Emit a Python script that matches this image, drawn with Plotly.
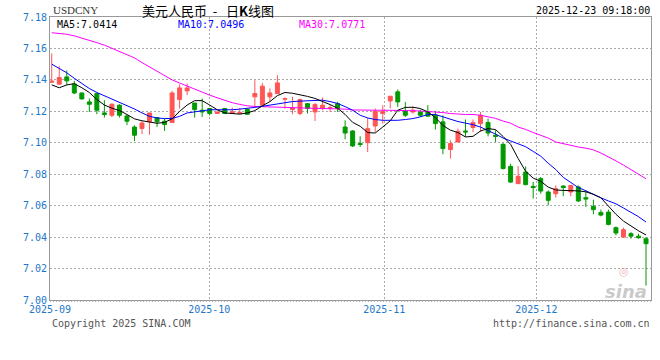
import plotly.graph_objects as go

# ---------------- data ----------------
symbol = "USDCNY"
title_text = "美元人民币\u00a0\u00a0-\u00a0\u00a0\u00a0日<b>K</b>线图"
stamp = "2025-12-23 09:18:00"

idx = list(range(80))  # trading-day index, 2025-09-01 .. 2025-12-23

opens = [7.1385, 7.1373, 7.1419, 7.1373, 7.1317, 7.1260, 7.1313, 7.1190, 7.1175, 7.1239,
         7.1171, 7.1100, 7.1091, 7.1133, 7.1160, 7.1137, 7.1129, 7.1275, 7.1330, 7.1253,
         7.1207, 7.1218, 7.1186, 7.1218, 7.1190, 7.1186, 7.1213, 7.1292, 7.1239, 7.1292,
         7.1313, 7.1277, 7.1211, 7.1186, 7.1249, 7.1196, 7.1218, 7.1218, 7.1249, 7.1100,
         7.1075, 7.0995, 7.1001, 7.1107, 7.1186, 7.1266, 7.1324, 7.1203, 7.1196, 7.1196,
         7.1196, 7.1175, 7.1133, 7.0957, 7.1005, 7.1075, 7.1097, 7.1122, 7.1129, 7.1048,
         7.0990, 7.0850, 7.0740, 7.0814, 7.0723, 7.0772, 7.0687, 7.0676, 7.0725, 7.0687,
         7.0719, 7.0651, 7.0596, 7.0557, 7.0559, 7.0460, 7.0400, 7.0422, 7.0406, 7.0390]
highs = [7.1568, 7.1487, 7.1460, 7.1394, 7.1317, 7.1282, 7.1317, 7.1271, 7.1251, 7.1245,
         7.1177, 7.1111, 7.1137, 7.1190, 7.1160, 7.1154, 7.1330, 7.1371, 7.1377, 7.1253,
         7.1282, 7.1222, 7.1196, 7.1222, 7.1224, 7.1222, 7.1218, 7.1398, 7.1381, 7.1345,
         7.1430, 7.1288, 7.1292, 7.1281, 7.1249, 7.1253, 7.1288, 7.1239, 7.1260, 7.1143,
         7.1080, 7.1041, 7.1158, 7.1218, 7.1239, 7.1296, 7.1339, 7.1260, 7.1232, 7.1211,
         7.1239, 7.1203, 7.1175, 7.1016, 7.1090, 7.1148, 7.1148, 7.1196, 7.1154, 7.1080,
         7.0999, 7.0867, 7.0852, 7.0850, 7.0751, 7.0782, 7.0697, 7.0729, 7.0729, 7.0729,
         7.0729, 7.0697, 7.0638, 7.0575, 7.0575, 7.0468, 7.0460, 7.0432, 7.0422, 7.0400]
lows = [7.1383, 7.1370, 7.1366, 7.1309, 7.1275, 7.1196, 7.1182, 7.1160, 7.1163, 7.1160,
        7.1112, 7.1011, 7.1055, 7.1052, 7.1101, 7.1075, 7.1125, 7.1218, 7.1303, 7.1160,
        7.1164, 7.1174, 7.1186, 7.1184, 7.1190, 7.1186, 7.1181, 7.1228, 7.1228, 7.1260,
        7.1313, 7.1218, 7.1182, 7.1175, 7.1186, 7.1139, 7.1207, 7.1196, 7.1196, 7.1022,
        7.0973, 7.0973, 7.0941, 7.1069, 7.1122, 7.1218, 7.1228, 7.1164, 7.1186, 7.1164,
        7.1164, 7.1084, 7.0927, 7.0899, 7.1005, 7.1037, 7.1069, 7.1069, 7.1041, 7.1005,
        7.0830, 7.0744, 7.0740, 7.0729, 7.0645, 7.0676, 7.0602, 7.0651, 7.0660, 7.0660,
        7.0623, 7.0591, 7.0545, 7.0532, 7.0475, 7.0411, 7.0400, 7.0390, 7.0390, 7.0092]
closes = [7.1392, 7.1415, 7.1394, 7.1317, 7.1279, 7.1245, 7.1207, 7.1180, 7.1245, 7.1175,
          7.1137, 7.1048, 7.1126, 7.1190, 7.1133, 7.1116, 7.1317, 7.1349, 7.1349, 7.1211,
          7.1196, 7.1186, 7.1196, 7.1186, 7.1196, 7.1193, 7.1181, 7.1313, 7.1360, 7.1317,
          7.1381, 7.1281, 7.1222, 7.1275, 7.1218, 7.1243, 7.1239, 7.1224, 7.1218, 7.1062,
          7.0980, 7.0989, 7.1090, 7.1200, 7.1200, 7.1296, 7.1260, 7.1175, 7.1207, 7.1175,
          7.1169, 7.1122, 7.0963, 7.0995, 7.1073, 7.1069, 7.1129, 7.1175, 7.1062, 7.1041,
          7.0836, 7.0750, 7.0787, 7.0734, 7.0715, 7.0693, 7.0634, 7.0708, 7.0715, 7.0729,
          7.0630, 7.0642, 7.0575, 7.0540, 7.0481, 7.0426, 7.0447, 7.0406, 7.0396, 7.0358]

ma5 = [7.1368, 7.1350, 7.1368, 7.1376, 7.1350, 7.1320, 7.1275, 7.1240, 7.1220, 7.1205,
       7.1180, 7.1152, 7.1140, 7.1133, 7.1124, 7.1130, 7.1152, 7.1200, 7.1240, 7.1268,
       7.1268, 7.1240, 7.1210, 7.1190, 7.1185, 7.1182, 7.1190, 7.1205, 7.1235, 7.1262,
       7.1300, 7.1320, 7.1315, 7.1307, 7.1295, 7.1282, 7.1265, 7.1243, 7.1220, 7.1180,
       7.1130, 7.1105, 7.1065, 7.1062, 7.1100, 7.1140, 7.1207, 7.1225, 7.1226, 7.1218,
       7.1196, 7.1160, 7.1110, 7.1080, 7.1065, 7.1037, 7.1041, 7.1075, 7.1090, 7.1084,
       7.1040, 7.0990, 7.0900, 7.0818, 7.0775, 7.0755, 7.0718, 7.0700, 7.0697, 7.0697,
       7.0694, 7.0688, 7.0672, 7.0650, 7.0595, 7.0545, 7.0502, 7.0470, 7.0440, 7.0414]
ma10 = [7.1500, 7.1475, 7.1445, 7.1410, 7.1375, 7.1345, 7.1320, 7.1300, 7.1280, 7.1260,
        7.1238, 7.1215, 7.1190, 7.1168, 7.1158, 7.1154, 7.1155, 7.1168, 7.1190, 7.1196,
        7.1200, 7.1210, 7.1210, 7.1208, 7.1210, 7.1214, 7.1218, 7.1225, 7.1232, 7.1240,
        7.1248, 7.1258, 7.1262, 7.1265, 7.1268, 7.1270, 7.1271, 7.1262, 7.1250, 7.1230,
        7.1207, 7.1175, 7.1158, 7.1148, 7.1143, 7.1143, 7.1143, 7.1148, 7.1154, 7.1165,
        7.1180, 7.1180, 7.1165, 7.1150, 7.1135, 7.1125, 7.1115, 7.1100, 7.1080, 7.1055,
        7.1030, 7.1010, 7.0995, 7.0975, 7.0945, 7.0915, 7.0870, 7.0830, 7.0780, 7.0750,
        7.0715, 7.0695, 7.0670, 7.0650, 7.0630, 7.0612, 7.0585, 7.0560, 7.0530, 7.0496]
ma30 = [7.1700, 7.1696, 7.1690, 7.1680, 7.1667, 7.1653, 7.1637, 7.1621, 7.1602, 7.1583,
        7.1562, 7.1540, 7.1510, 7.1483, 7.1455, 7.1428, 7.1400, 7.1380, 7.1360, 7.1340,
        7.1320, 7.1303, 7.1286, 7.1270, 7.1255, 7.1244, 7.1235, 7.1231, 7.1229, 7.1228,
        7.1226, 7.1224, 7.1223, 7.1222, 7.1220, 7.1219, 7.1218, 7.1218, 7.1218, 7.1214,
        7.1209, 7.1207, 7.1207, 7.1207, 7.1207, 7.1207, 7.1207, 7.1206, 7.1204, 7.1202,
        7.1200, 7.1196, 7.1192, 7.1186, 7.1181, 7.1180, 7.1180, 7.1175, 7.1165, 7.1155,
        7.1138, 7.1125, 7.1100, 7.1085, 7.1065, 7.1050, 7.1030, 7.1005, 7.0993, 7.0985,
        7.0973, 7.0966, 7.0955, 7.0935, 7.0912, 7.0885, 7.0858, 7.0830, 7.0803, 7.0771]

y_ticks = [7.00, 7.02, 7.04, 7.06, 7.08, 7.10, 7.12, 7.14, 7.16, 7.18]
month_pos = [-0.22, 20.95, 44.21, 64.42]
month_labels = ["2025-09", "2025-10", "2025-11", "2025-12"]

# ---------------- styling / layout ----------------
W, H = 660, 360
L, R, T, B = 50, 9, 17, 60
PW, PH = W - L - R, H - T - B
MONO = "DejaVu Sans Mono"
BLUE_TXT = "#1e78c8"
UP, DOWN = "#ff5555", "#009a00"


def px(x):
    return (x - L) / PW


def py(y):
    return (H - B - y) / PH


fig = go.Figure()
fig.add_trace(go.Candlestick(
    x=idx, open=opens, high=highs, low=lows, close=closes,
    increasing=dict(line=dict(color=UP, width=1), fillcolor=UP),
    decreasing=dict(line=dict(color=DOWN, width=1), fillcolor=DOWN),
    whiskerwidth=0, showlegend=False, hoverinfo="skip"))
for vals, col in [(ma30, "#ff00ff"), (ma10, "#0000ff"), (ma5, "#000000")]:
    fig.add_trace(go.Scatter(x=idx, y=vals, mode="lines",
                             line=dict(color=col, width=1), showlegend=False,
                             hoverinfo="skip"))

ann = []
ann.append(dict(x=px(51), y=py(10), text=symbol, xanchor="left", yanchor="middle",
                font=dict(family="Liberation Serif", size=11, color="#333333")))
ann.append(dict(x=px(208), y=py(10), text=title_text, xanchor="center", yanchor="middle",
                font=dict(family="Noto Sans CJK SC", size=13, color="#000000")))
ann.append(dict(x=px(652), y=py(10), text=stamp, xanchor="right", yanchor="middle",
                font=dict(family=MONO, size=10, color="#000000")))
for xp, name, vals, col in [(55, "MA5", ma5, "#000000"), (176, "MA10", ma10, "#0000ff"),
                            (297, "MA30", ma30, "#ff00ff")]:
    ann.append(dict(x=px(xp), y=py(25), text=f"{name}:{vals[-1]:.4f}", xanchor="left",
                    yanchor="middle", font=dict(family=MONO, size=10, color=col)))
ann.append(dict(x=px(50), y=py(323), text="Copyright 2025 SINA.COM", xanchor="left",
                yanchor="middle", font=dict(family=MONO, size=10, color="#555555")))
ann.append(dict(x=px(652), y=py(323), text="http://finance.sina.com.cn", xanchor="right",
                yanchor="middle", font=dict(family=MONO, size=10, color="#555555")))
ann.append(dict(x=px(626), y=py(291), text="<b><i>sina</i></b>", xanchor="center",
                yanchor="middle", font=dict(family="DejaVu Sans", size=18,
                                             color="rgba(185,185,185,0.75)")))
ann.append(dict(x=px(624), y=py(271), text="◎", xanchor="center", yanchor="middle",
                font=dict(family="DejaVu Sans", size=11, color="rgba(230,120,120,0.6)")))
for a in ann:
    a.update(xref="paper", yref="paper", showarrow=False)

fig.update_layout(
    width=W, height=H, margin=dict(l=L, r=R, t=T, b=B),
    paper_bgcolor="white", plot_bgcolor="white",
    annotations=ann, boxgap=0.25,
    shapes=[dict(type="line", xref="paper", yref="paper", x0=0, x1=1,
                 y0=py(301.5), y1=py(301.5), line=dict(color="#bbbbbb", width=1, dash="1px,2px"))],
    xaxis=dict(range=[-0.23, 79.66], rangeslider=dict(visible=False),
               tickvals=month_pos, ticktext=month_labels, ticks="",
               tickfont=dict(family=MONO, size=10, color=BLUE_TXT),
               showgrid=True, gridcolor="#aaaaaa", griddash="2px,2px", gridwidth=1,
               showline=True, linecolor="#999999", linewidth=1, mirror=True,
               zeroline=False, fixedrange=True),
    yaxis=dict(range=[7.00, 7.18], tickvals=y_ticks, ticktext=[f"{v:.2f}" for v in y_ticks],
               ticks="", tickfont=dict(family=MONO, size=10, color=BLUE_TXT),
               showgrid=True, gridcolor="#aaaaaa", griddash="2px,2px", gridwidth=1,
               showline=True, linecolor="#999999", linewidth=1, mirror=True,
               zeroline=False, fixedrange=True),
)

fig.write_html("out.html", config={"displayModeBar": False},
               post_script="document.body.style.margin='0';document.body.style.overflow='hidden';")
